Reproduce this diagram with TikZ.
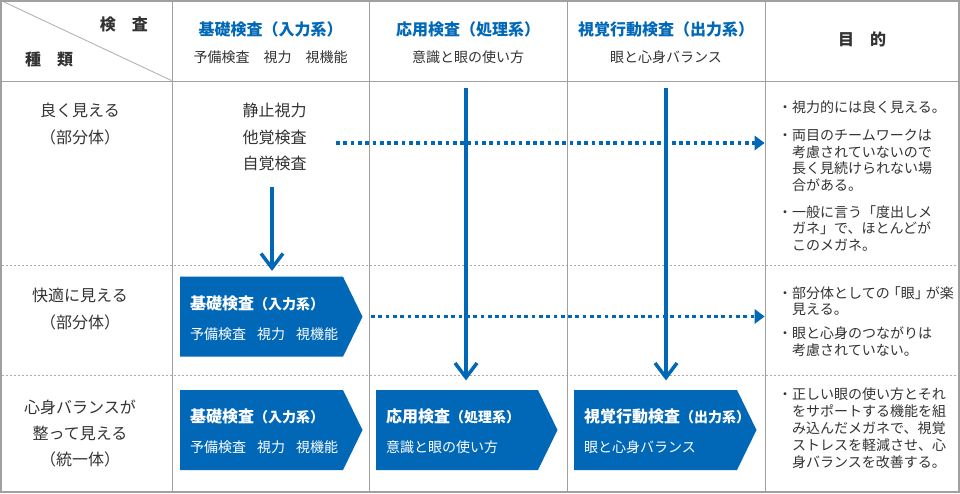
\documentclass[tikz,border=0pt]{standalone}
\usepackage{fontspec}
\setmainfont{Noto Sans CJK JP}
\usetikzlibrary{arrows.meta}
\definecolor{jblue}{HTML}{0068B7}
\definecolor{jtext}{HTML}{333333}
\definecolor{jgrid}{HTML}{A0A0A0}
\definecolor{jdot}{HTML}{AAAAAA}
\newcommand\fsL{\fontsize{16}{19}\selectfont}
\newcommand\fsM{\fontsize{14}{17}\selectfont}
\newcommand\pentbox[3]{\fill[jblue] (#1,#2) -- ++(#3,0) -- ++(19.5,40) -- ++(-19.5,40) -- ++(-#3,0) -- cycle;}
\begin{document}
\begin{tikzpicture}[x=1pt,y=-1pt,
  gridline/.style={draw=jgrid,line width=1pt},
  frameline/.style={draw=jgrid,line width=2pt},
  rowsep/.style={draw=jdot,line width=1pt,dash pattern=on 2pt off 2pt},
  tL/.style={font=\fsL,text=jtext,inner sep=0pt,anchor=base},
  tLb/.style={font=\fsL\bfseries,text=jtext,inner sep=0pt,anchor=base},
  tM/.style={font=\fsM,text=jtext,inner sep=0pt,anchor=base},
  tMw/.style={font=\fsM,text=jtext,inner sep=0pt,anchor=base west},
  hdr/.style={font=\fsL\bfseries,text=jblue,inner sep=0pt,anchor=base},
  boxt/.style={font=\fsL\bfseries,text=white,inner sep=0pt,anchor=base west},
  boxs/.style={font=\fsM,text=white,inner sep=0pt,anchor=base west},
  vline/.style={draw=jblue,line width=4pt},
  vhead/.style={draw=jblue,line width=3.5pt,line join=miter,miter limit=10},
  dotarrow/.style={draw=jblue,line width=3.5pt,dash pattern=on 3.7pt off 3.6pt,
    -{Triangle[length=10pt,width=15pt,line width=0pt]}}
]
\useasboundingbox (0,0) rectangle (960,493);
\fill[white] (0,0) rectangle (960,493);

% grid
\draw[rowsep] (2,265) -- (958,265);
\draw[rowsep] (2,375.5) -- (958,375.5);
\draw[gridline] (1,81) -- (959,81);
\foreach \x in {172,369,567,765} \draw[gridline] (\x,1) -- (\x,492);
\draw[draw=jgrid!80,line width=0.9pt] (3,1.5) -- (171.5,80.5);
\draw[frameline] (1,1) rectangle (959,492);

% header
\node[hdr] (h1) at (270.5,35.4) {基礎検査（入力系）};
\node[tM] (h1s) at (270.5,62.6) {予備検査　視力　視機能};
\node[hdr] (h2) at (468,35.4) {応用検査（処理系）};
\node[tM] (h2s) at (468,62.6) {意識と眼の使い方};
\node[hdr] (h3) at (666,35.4) {視覚行動検査（出力系）};
\node[tM] (h3s) at (666,62.6) {眼と心身バランス};
\node[tLb] (h4) at (862,45.4) {目　的};
\node[tLb,anchor=base east] (hk) at (148,30.1) {検　査};
\node[tLb,anchor=base west] (hs) at (25,65.1) {種　類};

% row labels
\node[tL] (r1a) at (80,116.1) {良く見える};
\node[tL] (r1b) at (80,143.1) {（部分体）};
\node[tL] (r2a) at (80,301.1) {快適に見える};
\node[tL] (r2b) at (80,328.1) {（部分体）};
\node[tL] (r3a) at (80,413.1) {心身バランスが};
\node[tL] (r3b) at (80,439.1) {整って見える};
\node[tL] (r3c) at (80,465.1) {（統一体）};

% row 1 col 1
\node[tL] (c1a) at (274.5,116.1) {静止視力};
\node[tL] (c1b) at (274.5,143.1) {他覚検査};
\node[tL] (c1c) at (274.5,169.1) {自覚検査};

% dotted arrows
\coordinate (d1s) at (336,143);
\coordinate (d1e) at (764.5,143);
\coordinate (d2s) at (371,316.5);
\coordinate (d2e) at (764.5,316.5);
\draw[dotarrow] (d1s) -- (d1e);
\draw[dotarrow] (d2s) -- (d2e);

% boxes
\pentbox{180}{276.7}{163}
\pentbox{180}{390}{163}
\pentbox{376}{390}{162}
\pentbox{574}{390}{163}
\node[boxt] (b1t) at (190,309.4) {基礎検査{\fsM （入力系）}};
\node[boxs] (b1s) at (190,339.3) {予備検査\hspace{11pt}視力\hspace{11pt}視機能};
\node[boxt] (b2t) at (190,422.8) {基礎検査{\fsM （入力系）}};
\node[boxs] (b2s) at (190,452) {予備検査\hspace{11pt}視力\hspace{11pt}視機能};
\node[boxt] (b3t) at (386,422.8) {応用検査{\fsM （処理系）}};
\node[boxs] (b3s) at (386,452) {意識と眼の使い方};
\node[boxt] (b4t) at (584,422.8) {視覚行動検査{\fsM （出力系）}};
\node[boxs] (b4s) at (584,452) {眼と心身バランス};

% vertical arrows
\coordinate (v1s) at (272,187);
\coordinate (v1e) at (272,268);
\coordinate (v2s) at (466,88);
\coordinate (v2e) at (466,377.5);
\coordinate (v3s) at (666,88);
\coordinate (v3e) at (666,377.5);
\foreach \s/\e in {v1s/v1e,v2s/v2e,v3s/v3e}{
  \draw[vline] (\s) -- (\e);
  \draw[vhead] ([shift={(-11,-14.5)}]\e) -- (\e) -- ([shift={(11,-14.5)}]\e);
}

% right column
\node[tMw] (p1a) at (778,112.3) {・視力的には良く見える。};
\node[tMw] (p2a) at (778,140.3) {・両目のチームワークは};
\node[tMw] (p2b) at (792,157) {考慮されていないので};
\node[tMw] (p2c) at (792,173.6) {長く見続けられない場};
\node[tMw] (p2d) at (792,190.3) {合がある。};
\node[tMw] (p3a) at (778,217.3) {・一般に言う「度出しメ};
\node[tMw] (p3b) at (792,233.8) {ガネ」で、ほとんどが};
\node[tMw] (p3c) at (792,250.3) {このメガネ。};
\node[tMw] (q1a) at (778,298) {・部分体としての\hspace{-3pt}「眼」\hspace{-3pt}が楽};
\node[tMw] (q1b) at (792,314.6) {見える。};
\node[tMw] (q2a) at (778,338.6) {・眼と心身のつながりは};
\node[tMw] (q2b) at (792,355.3) {考慮されていない。};
\node[tMw] (s1a) at (778,399.3) {・正しい眼の使い方とそれ};
\node[tMw] (s1b) at (792,416) {をサポートする機能を組};
\node[tMw] (s1c) at (792,433) {み込んだメガネで、視覚};
\node[tMw] (s1d) at (792,450) {ストレスを軽減させ、心};
\node[tMw] (s1e) at (792,467) {身バランスを改善する。};
\end{tikzpicture}
\end{document}
